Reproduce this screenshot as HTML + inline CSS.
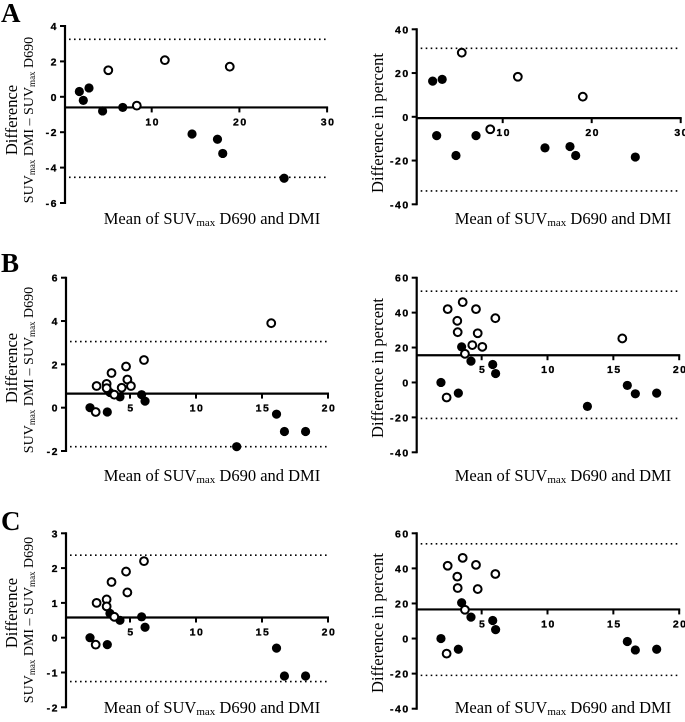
<!DOCTYPE html>
<html><head><meta charset="utf-8"><style>
html,body{margin:0;padding:0;background:#fff;}
svg{display:block;}
.tk{font-family:"Liberation Sans",Arial,sans-serif;font-weight:bold;font-size:10.5px;letter-spacing:1.5px;fill:#000;stroke:#000;stroke-width:0.3px;}
.ti{font-family:"Liberation Serif","Times New Roman",serif;font-size:16.5px;fill:#000;}
.lt{font-family:"Liberation Serif","Times New Roman",serif;font-weight:bold;font-size:27px;fill:#000;}
</style></head><body>
<svg id="fig" width="685" height="722" viewBox="0 0 685 722" xmlns="http://www.w3.org/2000/svg">
<text class="lt" x="1" y="22">A</text>
<text class="lt" x="1" y="272">B</text>
<text class="lt" x="1" y="530">C</text>
</svg>
<script>
// Panel A left (absolute difference)
const aLeftFilledX=[1.75,2.2,2.85,4.4,6.7,14.6,17.5,18.1,25.1];
const aLeftFilledY=[0.3,-0.2,0.5,-0.8,-0.6,-2.1,-2.4,-3.2,-4.6];
const aLeftOpenX=[5.05,8.3,11.5,18.9];
const aLeftOpenY=[1.5,-0.5,2.07,1.7];
const aLeftLines=[-0.6,3.25,-4.55]; // bias, upper, lower
const aLeftYTicks=[4,2,0,-2,-4,-6];
const aLeftXTicks=[10,20,30];
// Panel A right (percent)
const aRightFilledX=[2.13,2.58,3.2,4.75,7.0,14.75,17.56,18.2,24.9];
const aRightFilledY=[16.3,-8.6,17.1,-17.7,-8.6,-14.2,-13.6,-17.7,-18.4];
const aRightOpenX=[5.4,8.6,11.7,19.0];
const aRightOpenY=[29.3,-5.7,18.3,9.2];
const aRightLines=[-0.6,31.3,-33.9];
const aRightYTicks=[40,20,0,-20,-40];
const aRightXTicks=[10,20,30];
// Panel B left
const bLeftFilledX=[1.97,3.28,3.48,4.24,5.88,6.14,13.08,16.1,16.7,18.3];
const bLeftFilledY=[0,-0.2,0.7,0.5,0.6,0.3,-1.8,-0.3,-1.1,-1.1];
const bLeftOpenX=[2.47,2.4,3.23,3.23,3.6,3.81,4.37,4.7,4.8,5.07,6.06,15.7];
const bLeftOpenY=[1.0,-0.2,1.1,0.9,1.6,0.6,0.92,1.9,1.3,1.0,2.2,3.9];
const bLeftLines=[0.65,3.05,-1.8];
const bLeftYTicks=[6,4,2,0,-2];
const bLeftXTicks=[5,10,15,20];
// Panel B right
const bRightFilledX=[3.48,4.19,5.84,6.06,1.91,3.23,13.03,16.06,16.67,18.29];
const bRightFilledY=[20.4,12.2,10.3,5.1,0,-6.1,-13.7,-1.7,-6.5,-6.1];
const bRightOpenX=[2.42,3.56,4.57,3.15,6.04,3.18,4.7,4.29,5.05,3.73,2.34,15.68];
const bRightOpenY=[42.0,46.0,42.0,35.3,36.8,28.8,28.2,21.4,20.4,16.4,-8.6,25.2];
const bRightLines=[15.6,52.3,-20.6];
const bRightYTicks=[60,40,20,0,-20,-40];
const bRightXTicks=[5,10,15,20];
// Panel C left
const cLeftFilledX=[1.97,3.28,3.48,4.24,5.88,6.14,16.1,16.7,18.3];
const cLeftFilledY=[0,-0.2,0.7,0.5,0.6,0.3,-0.3,-1.1,-1.1];
const cLeftOpenX=[2.47,2.4,3.23,3.23,3.6,3.81,4.7,4.8,6.06];
const cLeftOpenY=[1.0,-0.2,1.1,0.9,1.6,0.6,1.9,1.3,2.2];
const cLeftLines=[0.58,2.37,-1.26];
const cLeftYTicks=[3,2,1,0,-1,-2];
const cLeftXTicks=[5,10,15,20];
// Panel C right
const cRightFilledX=[3.48,4.19,5.84,6.06,1.91,3.23,16.06,16.67,18.29];
const cRightFilledY=[20.4,12.2,10.3,5.1,0,-6.1,-1.7,-6.5,-6.1];
const cRightOpenX=[2.42,3.56,4.57,3.15,6.04,3.18,4.7,3.73,2.34];
const cRightOpenY=[41.5,46.0,42.0,35.3,36.8,28.8,28.2,16.4,-8.6];
const cRightLines=[16.6,54,-21];
const cRightYTicks=[60,40,20,0,-20,-40];
const cRightXTicks=[5,10,15,20];

const NS="http://www.w3.org/2000/svg";
const svg=document.getElementById('fig');
function mk(tag,attrs,parent){const e=document.createElementNS(NS,tag);for(const k in attrs)e.setAttribute(k,attrs[k]);(parent||svg).appendChild(e);return e;}

function panel(id,g,fX,fY,oX,oY,lines,yTicks,xTicks){
  const grp=mk('g',{});
  
  
  const yMax=yTicks[0],yMin=yTicks[yTicks.length-1];
  const xMax=xTicks[xTicks.length-1];
  const sx=v=>g.x0+v*g.xs;
  const sy=v=>g.yTop+(yMax-v)*(g.yBot-g.yTop)/(yMax-yMin);
  const xEnd=sx(xMax);
  const ya=mk('line',{x1:g.ax,y1:sy(yMax)-1,x2:g.ax,y2:sy(yMin)+1,stroke:'#000','stroke-width':2.2},grp);
  
  
  yTicks.forEach(t=>{
    mk('line',{x1:g.ax-5,y1:sy(t),x2:g.ax,y2:sy(t),stroke:'#000','stroke-width':2},grp);
    const tx=mk('text',{class:'tk',x:g.ax-7,y:sy(t)+4,'text-anchor':'end'},grp);
    tx.textContent=String(t);
    
    
  });
  [lines[1],lines[2]].forEach((v,i)=>{
    const l=mk('line',{x1:g.ax+4,y1:sy(v),x2:xEnd,y2:sy(v),stroke:'#000','stroke-width':1.6,'stroke-dasharray':'1.6,3.4'},grp);
    
    
  });
  const by=sy(lines[0]);
  const bl=mk('line',{x1:g.ax,y1:by,x2:xEnd+1,y2:by,stroke:'#000','stroke-width':2.2},grp);
  
  
  xTicks.forEach(t=>{
    mk('line',{x1:sx(t),y1:by,x2:sx(t),y2:by+5,stroke:'#000','stroke-width':2},grp);
    const tx=mk('text',{class:'tk',x:sx(t)+1,y:by+18,'text-anchor':'middle'},grp);
    tx.textContent=String(t);
    
    
  });
  fX.forEach((v,i)=>{
    const c=mk('circle',{cx:sx(v),cy:sy(fY[i]),r:4.6,fill:'#000'},grp);
    
    
  });
  oX.forEach((v,i)=>{
    const c=mk('circle',{cx:sx(v),cy:sy(oY[i]),r:3.9,fill:'#fff',stroke:'#000','stroke-width':2},grp);
    
    
  });
  const xt=mk('text',{class:'ti',x:g.xtx,y:g.xty,'text-anchor':'middle'},grp);
  xt.innerHTML='Mean of SUV<tspan font-size="11" dy="2">max</tspan><tspan dy="-2"> D690 and DMI</tspan>';
  
  
  if(g.pct){
    const t=mk('text',{class:'ti',transform:`translate(${g.ytx},${g.yty}) rotate(-90)`,'text-anchor':'middle'},grp);
    t.textContent='Difference in percent';
    
    
  } else {
    const t=mk('text',{class:'ti',transform:`translate(${g.ytx},${g.yty}) rotate(-90)`,'text-anchor':'middle'},grp);
    t.textContent='Difference';
    
    
    const t2=mk('text',{class:'ti',transform:`translate(${g.ytx+16},${g.yty2}) rotate(-90)`,'text-anchor':'middle'},grp);
    t2.setAttribute('style','font-size:14px');
    t2.innerHTML='SUV<tspan font-size="9" dy="2">max</tspan><tspan dy="-2"> DMI – SUV</tspan><tspan font-size="9" dy="2">max</tspan><tspan dy="-2"> D690</tspan>';
    
    
  }
}

panel('a-left',{ax:65,x0:64,xs:8.77,yTop:26,yBot:203,xtx:212,xty:224,ytx:17,yty:120,yty2:120},aLeftFilledX,aLeftFilledY,aLeftOpenX,aLeftOpenY,aLeftLines,aLeftYTicks,aLeftXTicks);
panel('a-right',{ax:416.7,x0:413.7,xs:8.9,yTop:29.3,yBot:204.3,xtx:563,xty:224,ytx:383,yty:123,pct:true},aRightFilledX,aRightFilledY,aRightOpenX,aRightOpenY,aRightLines,aRightYTicks,aRightXTicks);
panel('b-left',{ax:66,x0:64,xs:13.2,yTop:277.7,yBot:451,xtx:212,xty:481,ytx:17,yty:368,yty2:370},bLeftFilledX,bLeftFilledY,bLeftOpenX,bLeftOpenY,bLeftLines,bLeftYTicks,bLeftXTicks);
panel('b-right',{ax:416.7,x0:415.8,xs:13.17,yTop:277.7,yBot:452.3,xtx:563,xty:481,ytx:383,yty:368,pct:true},bRightFilledX,bRightFilledY,bRightOpenX,bRightOpenY,bRightLines,bRightYTicks,bRightXTicks);
panel('c-left',{ax:66,x0:64,xs:13.2,yTop:533.3,yBot:707.3,xtx:212,xty:713,ytx:17,yty:613,yty2:620},cLeftFilledX,cLeftFilledY,cLeftOpenX,cLeftOpenY,cLeftLines,cLeftYTicks,cLeftXTicks);
panel('c-right',{ax:416.7,x0:415.8,xs:13.17,yTop:533.3,yBot:708.7,xtx:563,xty:713,ytx:383,yty:623,pct:true},cRightFilledX,cRightFilledY,cRightOpenX,cRightOpenY,cRightLines,cRightYTicks,cRightXTicks);
</script>
</body></html>
